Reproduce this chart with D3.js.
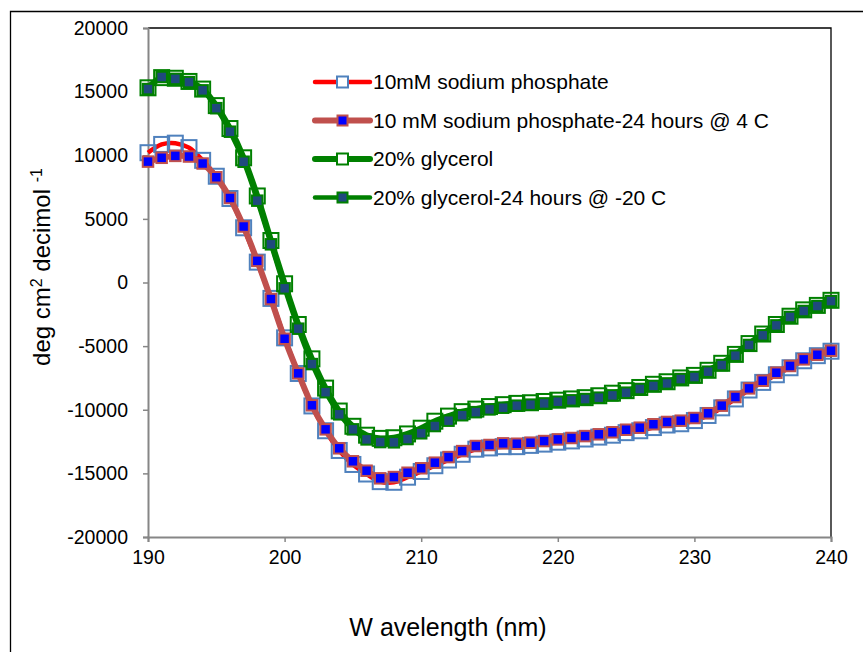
<!DOCTYPE html>
<html>
<head>
<meta charset="utf-8">
<script src="https://cdn.jsdelivr.net/npm/d3@7"></script>
<style>
  body { margin: 0; background: #fff; }
  svg { font-family: 'Liberation Sans', Arial, sans-serif; }
</style>
</head>
<body>
<script>
const width = 863
const height = 652
const margins = { top: 28, right: 32, bottom: 115, left: 148 }

const wavelengths = d3.range(190, 241)
const xTicks = [190, 200, 210, 220, 230, 240]
const yTicks = [-20000, -15000, -10000, -5000, 0, 5000, 10000, 15000, 20000]

const phosphate = [
  10200, 10850, 10950, 10600, 9600, 8350, 6600, 4300, 1600, -1250,
  -4350, -7150, -9700, -11650, -13200, -14300, -15050, -15650, -15700, -15300,
  -14850, -14400, -13950, -13500, -13100, -13000, -12900, -12900, -12800, -12700,
  -12550, -12450, -12300, -12150, -12000, -11800, -11650, -11400, -11200, -11100,
  -10850, -10450, -9850, -9150, -8450, -7850, -7250, -6700, -6150, -5750, -5400
]
const phosphate24 = [
  9500, 9800, 9950, 9900, 9350, 8270, 6640, 4400, 1700, -1300,
  -4420, -7140, -9650, -11540, -13030, -14050, -14790, -15390, -15290, -14950,
  -14600, -14160, -13720, -13250, -12850, -12770, -12640, -12670, -12590, -12460,
  -12330, -12220, -12070, -11930, -11770, -11570, -11410, -11140, -10960, -10860,
  -10650, -10280, -9680, -9000, -8320, -7720, -7090, -6560, -6040, -5680, -5360
]
const glycerol = [
  15300, 16100, 16050, 15800, 15200, 13900, 12100, 9800, 6800, 3300,
  -100, -3300, -6000, -8300, -10100, -11300, -12000, -12250, -12200, -11900,
  -11450, -10900, -10500, -10150, -9950, -9750, -9600, -9500, -9450, -9350,
  -9250, -9150, -9050, -8900, -8700, -8500, -8250, -8000, -7800, -7500,
  -7300, -6900, -6350, -5650, -4800, -4050, -3300, -2650, -2150, -1800, -1400
]
const glycerol24 = [
  15200, 16150, 16000, 15750, 15100, 13700, 11850, 9490, 6430, 3000,
  -460, -3630, -6410, -8620, -10360, -11540, -12330, -12540, -12560, -12300,
  -11850, -11280, -10860, -10430, -10190, -9970, -9840, -9680, -9600, -9500,
  -9370, -9260, -9160, -9050, -8870, -8660, -8370, -8130, -7930, -7590,
  -7430, -7010, -6490, -5750, -4910, -4150, -3370, -2710, -2240, -1850, -1460
]
const seriesNames = [
  '10mM sodium phosphate',
  '10 mM sodium phosphate-24 hours @ 4 C',
  '20% glycerol',
  '20% glycerol-24 hours @ -20 C'
]

const styles = [
  { line: '#ff0000', lineWidth: 4.5, size: 15, fill: 'none', stroke: '#4f81bd', strokeWidth: 2 },
  { line: '#c0504d', lineWidth: 6, size: 10.5, fill: '#0000ff', stroke: '#c0504d', strokeWidth: 2 },
  { line: '#008000', lineWidth: 6, size: 15, fill: 'none', stroke: '#008000', strokeWidth: 2 },
  { line: '#008000', lineWidth: 4.5, size: 10.5, fill: '#1f497d', stroke: '#008000', strokeWidth: 2 }
]

const series = [phosphate, phosphate24, glycerol, glycerol24].map((vals, i) => ({
  name: seriesNames[i],
  style: styles[i],
  points: wavelengths.map((w, j) => ({ x: w, y: vals[j] }))
}))

const svg = d3.select('body').append('svg')
  .attr('width', width)
  .attr('height', height)

// outer chart frame (only top and left edges are in view)
svg.append('path')
  .attr('d', `M10.5,${height} V11.5 H${width}`)
  .attr('fill', 'none')
  .attr('stroke', '#000')
  .attr('stroke-width', 1.3)

const xScale = d3.scaleLinear()
  .domain([190, 240])
  .range([margins.left, width - margins.right])
const yScale = d3.scaleLinear()
  .domain([-20000, 20000])
  .range([height - margins.bottom, margins.top])

// plot area border top/right
svg.append('path')
  .attr('d', `M${xScale(190)},${yScale(20000)} H${xScale(240)} V${yScale(-20000)}`)
  .attr('fill', 'none')
  .attr('stroke', '#000')
  .attr('stroke-width', 1.3)

const plain = d => String(d)

const yAxis = svg.append('g')
  .attr('transform', `translate(${xScale(190)},0)`)
  .call(d3.axisLeft(yScale).tickValues(yTicks).tickSize(5).tickPadding(15).tickFormat(plain))
const xAxis = svg.append('g')
  .attr('transform', `translate(0,${yScale(-20000)})`)
  .call(d3.axisBottom(xScale).tickValues(xTicks).tickSize(5).tickPadding(8).tickFormat(plain))

;[xAxis, yAxis].forEach(ax => {
  ax.select('.domain').attr('stroke', '#868686').attr('stroke-width', 2)
  ax.selectAll('.tick line').attr('stroke', '#868686').attr('stroke-width', 1.5)
  ax.selectAll('.tick text')
    .attr('fill', '#000')
    .style('font-size', '19.5px')
    .style('font-family', "'Liberation Sans', Arial, sans-serif")
})

const line = d3.line()
  .x(d => xScale(d.x))
  .y(d => yScale(d.y))
  .curve(d3.curveCatmullRom.alpha(0.5))

const drawMarker = (sel, st) => sel
  .attr('width', st.size)
  .attr('height', st.size)
  .attr('fill', st.fill)
  .attr('stroke', st.stroke)
  .attr('stroke-width', st.strokeWidth)

series.forEach(s => {
  const g = svg.append('g')
  g.append('path')
    .datum(s.points)
    .attr('d', line)
    .attr('fill', 'none')
    .attr('stroke', s.style.line)
    .attr('stroke-width', s.style.lineWidth)
    .attr('stroke-linejoin', 'round')
  g.selectAll('rect')
    .data(s.points)
    .enter()
    .append('rect')
    .attr('x', d => xScale(d.x) - s.style.size / 2)
    .attr('y', d => yScale(d.y) - s.style.size / 2)
    .call(drawMarker, s.style)
})

// legend
const legend = svg.append('g')
const legendTop = 82
const legendStep = 38.5
series.forEach((s, i) => {
  const y = legendTop + i * legendStep
  legend.append('line')
    .attr('x1', 315).attr('x2', 370)
    .attr('y1', y).attr('y2', y)
    .attr('stroke', s.style.line)
    .attr('stroke-width', s.style.lineWidth)
    .attr('stroke-linecap', 'round')
  const size = s.style.size > 12 ? 11 : 10
  legend.append('rect')
    .attr('x', 342.5 - size / 2)
    .attr('y', y - size / 2)
    .call(drawMarker, { ...s.style, size })
    .attr('fill', s.style.fill === 'none' ? '#fff' : s.style.fill)
  legend.append('text')
    .attr('x', 373)
    .attr('y', y)
    .attr('dy', '0.35em')
    .style('font-size', '21px')
    .text(s.name)
})

// axis titles
svg.append('text')
  .attr('x', 448)
  .attr('y', 636)
  .attr('text-anchor', 'middle')
  .style('font-size', '25px')
  .text('W avelength (nm)')

const yTitle = svg.append('text')
  .attr('transform', `translate(50,267) rotate(-90)`)
  .attr('text-anchor', 'middle')
  .style('font-size', '24px')
yTitle.append('tspan').text('deg cm')
yTitle.append('tspan').attr('dy', -8).style('font-size', '16px').text('2')
yTitle.append('tspan').attr('dy', 8).text(' decimol ')
yTitle.append('tspan').attr('dy', -8).style('font-size', '16px').text('-1')
</script>
</body>
</html>
